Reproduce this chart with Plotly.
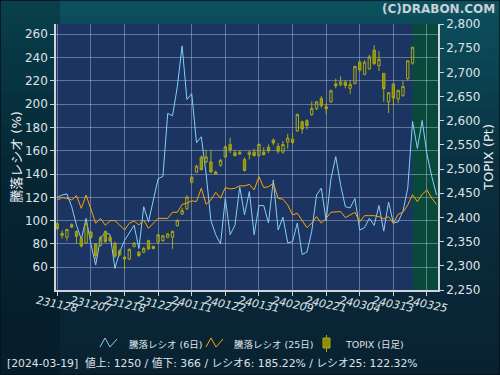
import plotly.graph_objects as go

# ---------------- data ----------------
tick_labels = ["231128", "231207", "231218", "231227", "240111", "240122",
               "240131", "240209", "240221", "240304", "240313", "240325"]

topix_open = [2387, 2363, 2359, 2385, 2371, 2357, 2347, 2370, 2345, 2342,
              2371, 2359, 2347, 2323, 2318, 2314, 2340, 2328, 2328, 2352,
              2340, 2349, 2352, 2359, 2359, 2383, 2407, 2418, 2473, 2494,
              2525, 2515, 2515, 2494, 2508, 2525, 2551, 2534, 2531, 2520,
              2530, 2535, 2528, 2535, 2545, 2560, 2547, 2535, 2556, 2562,
              2579, 2598, 2600, 2613, 2625, 2646, 2629, 2639, 2676, 2674,
              2680, 2667, 2677, 2721, 2696, 2707, 2746, 2714, 2698, 2639,
              2676, 2645, 2652, 2687, 2719]
topix_high = [2390, 2373, 2377, 2388, 2373, 2360, 2390, 2372, 2347, 2361,
              2373, 2362, 2350, 2334, 2320, 2336, 2349, 2331, 2339, 2354,
              2342, 2366, 2364, 2368, 2373, 2396, 2420, 2446, 2486, 2509,
              2528, 2540, 2540, 2497, 2521, 2549, 2565, 2540, 2538, 2524,
              2538, 2542, 2553, 2545, 2551, 2563, 2554, 2558, 2573, 2575,
              2615, 2600, 2603, 2640, 2641, 2651, 2636, 2664, 2687, 2692,
              2684, 2684, 2714, 2725, 2725, 2736, 2756, 2744, 2698, 2658,
              2676, 2663, 2682, 2724, 2752]
topix_low = [2374, 2356, 2352, 2378, 2345, 2338, 2345, 2356, 2314, 2340,
             2348, 2349, 2316, 2320, 2293, 2312, 2338, 2319, 2326, 2333,
             2334, 2347, 2350, 2357, 2335, 2381, 2405, 2416, 2470, 2492,
             2497, 2512, 2492, 2488, 2505, 2523, 2533, 2526, 2529, 2495,
             2520, 2526, 2526, 2528, 2533, 2549, 2532, 2532, 2542, 2552,
             2577, 2573, 2582, 2610, 2622, 2627, 2613, 2637, 2667, 2672,
             2667, 2655, 2675, 2701, 2694, 2705, 2715, 2703, 2639, 2616,
             2631, 2636, 2649, 2683, 2716]
topix_close = [2377, 2367, 2375, 2380, 2361, 2341, 2387, 2359, 2321, 2359,
               2350, 2352, 2320, 2331, 2314, 2334, 2347, 2321, 2336, 2335,
               2336, 2364, 2362, 2366, 2371, 2394, 2414, 2442, 2483, 2506,
               2499, 2525, 2494, 2490, 2518, 2546, 2540, 2528, 2535, 2497,
               2535, 2528, 2551, 2530, 2538, 2554, 2537, 2551, 2564, 2555,
               2613, 2583, 2590, 2625, 2639, 2631, 2625, 2662, 2672, 2680,
               2673, 2675, 2712, 2705, 2721, 2732, 2718, 2727, 2666, 2658,
               2647, 2663, 2671, 2724, 2752]

ratio6 = [120, 122, 123, 112, 96, 84, 102, 80, 62, 85,
          90, 88, 59, 73, 83, 89, 96, 76, 112, 99,
          118, 136, 138, 192, 190, 215, 250, 204, 209, 167,
          172, 140, 100, 88, 80, 119, 88, 96, 129, 105,
          125, 88, 113, 113, 98, 135, 92, 103, 81, 82,
          98, 71, 73, 91, 122, 128, 100, 136, 155, 131,
          112, 111, 119, 92, 94, 102, 96, 113, 91, 116,
          98, 99, 108, 128, 185.22, 162, 186, 157, 138, 122]
ratio25 = [117.8, 119.8, 119.2, 117.8, 121.5, 110.6, 122, 110.6, 97.8, 102,
           96, 100, 100, 96.3, 92, 97.8, 99.8, 96.3, 100.6, 93.5,
           97.8, 102, 102, 102, 107.2, 107.2, 114, 115, 117, 116.4,
           127.8, 114, 117.8, 124.4, 119.2, 128.4, 127.2, 127.8, 130, 129.8,
           131.2, 126.4, 137.8, 128.4, 129.2, 132, 119.2, 118.4, 113.5, 105,
           106.3, 99.8, 94, 97.8, 103.5, 97.8, 102, 107.2, 107.2, 107.8,
           102.6, 104.9, 107.2, 99.2, 104.3, 104.3, 104.3, 103.5, 101.5, 103.5,
           97.8, 105.5, 107.2, 113.5, 122.32, 116.4, 122.6, 126.4, 119.2, 114]

legend_names = ["騰落レシオ (6日)", "騰落レシオ (25日)", "TOPIX (日足)"]
status_text = "[2024-03-19]  値上: 1250 / 値下: 366 / レシオ6: 185.22% / レシオ25: 122.32%"

# ---------------- figure ----------------
W, H = 500, 375
ML, MR, MT, MB = 56, 62, 24, 85
PW, PH = W - ML - MR, H - MT - MB

def px2paper_x(px):
    return (px - ML) / PW

def px2paper_y(py):
    return (H - MB - py) / PH

FONT = "DejaVu Sans, Noto Sans CJK JP, sans-serif"
TXT = "#dfe3e8"
BLUE = "#87cefa"
ORANGE = "#ffa500"
OLIVE_LINE = "#a9a914"
OLIVE_FILL = "#8e8e0c"

idx_candle = list(range(len(topix_close)))
idx_ratio = list(range(len(ratio6)))

fig = go.Figure()
fig.add_trace(go.Scatter(x=idx_ratio, y=ratio6, mode="lines", name=legend_names[0],
                         line=dict(color=BLUE, width=1), yaxis="y", showlegend=False))
fig.add_trace(go.Scatter(x=idx_ratio, y=ratio25, mode="lines", name=legend_names[1],
                         line=dict(color=ORANGE, width=1), yaxis="y", showlegend=False))
fig.add_trace(go.Candlestick(x=idx_candle, open=topix_open, high=topix_high,
                             low=topix_low, close=topix_close, name=legend_names[2],
                             yaxis="y2", showlegend=False,
                             increasing=dict(line=dict(color=OLIVE_LINE, width=1),
                                             fillcolor="rgba(0,0,0,0)"),
                             decreasing=dict(line=dict(color=OLIVE_LINE, width=1),
                                             fillcolor=OLIVE_FILL)))

shapes = []
# background gradient (paper)
x0p, x1p = px2paper_x(0), px2paper_x(W)
top_c = (12, 80, 94)
mid_c = (10, 48, 64)
bot_c = (9, 34, 50)
N = 24
for k in range(N):
    t = k / (N - 1)
    if t < 0.45:
        u = t / 0.45
        c = tuple(int(top_c[j] + (mid_c[j] - top_c[j]) * u) for j in range(3))
    else:
        u = (t - 0.45) / 0.55
        c = tuple(int(mid_c[j] + (bot_c[j] - mid_c[j]) * u) for j in range(3))
    ya = px2paper_y(k * H / N)
    yb = px2paper_y((k + 1) * H / N + 1)
    shapes.append(dict(type="rect", xref="paper", yref="paper", x0=x0p, x1=x1p,
                       y0=yb, y1=ya, line=dict(width=0),
                       fillcolor="rgb(%d,%d,%d)" % c, layer="below"))
# darker left side
shapes.append(dict(type="rect", xref="paper", yref="paper", x0=x0p, x1=px2paper_x(60),
                   y0=px2paper_y(H), y1=px2paper_y(0), line=dict(width=0),
                   fillcolor="rgba(0,10,20,0.25)", layer="below"))
# plot background
shapes.append(dict(type="rect", xref="paper", yref="paper", x0=0, x1=1, y0=0, y1=1,
                   line=dict(width=0), fillcolor="#1b3461", layer="below"))
# green latest-period region
shapes.append(dict(type="rect", xref="x", yref="paper", x0=74, x1=79.3, y0=0, y1=1,
                   line=dict(width=0), fillcolor="#08493b", layer="below"))
# border
shapes.append(dict(type="rect", xref="paper", yref="paper", x0=x0p, x1=x1p,
                   y0=px2paper_y(H), y1=px2paper_y(0), line=dict(width=1.5, color="#05121a"),
                   fillcolor="rgba(0,0,0,0)", layer="above"))

# manual legend icons (paper coordinates)
def zigzag(pts, color):
    path = "M " + " L ".join("%f,%f" % (px2paper_x(a), px2paper_y(b)) for a, b in pts)
    return dict(type="path", xref="paper", yref="paper", path=path,
                line=dict(color=color, width=1), layer="above")

shapes.append(zigzag([(100, 347), (105, 338), (110, 347), (117, 339)], BLUE))
shapes.append(zigzag([(206, 347), (211, 338), (216, 347), (223, 339)], ORANGE))
# candle icon
shapes.append(dict(type="line", xref="paper", yref="paper",
                   x0=px2paper_x(326.5), x1=px2paper_x(326.5),
                   y0=px2paper_y(335), y1=px2paper_y(352),
                   line=dict(color=OLIVE_LINE, width=1), layer="above"))
shapes.append(dict(type="rect", xref="paper", yref="paper",
                   x0=px2paper_x(323), x1=px2paper_x(330),
                   y0=px2paper_y(348), y1=px2paper_y(338),
                   line=dict(color=OLIVE_LINE, width=1), fillcolor=OLIVE_FILL, layer="above"))

annotations = []
for k, lab in enumerate(tick_labels):
    annotations.append(dict(x=7 * k, xref="x", y=0, yref="paper", text=lab,
                            showarrow=False, textangle=12, xanchor="center",
                            yanchor="top", yshift=-1,
                            font=dict(family=FONT, size=11, color=TXT, style="italic")))
for xpx, name in zip([127, 232, 343], legend_names):
    annotations.append(dict(x=px2paper_x(xpx), y=px2paper_y(344), xref="paper", yref="paper",
                            text=name, showarrow=False, xanchor="left", yanchor="middle",
                            font=dict(family=FONT, size=9.5, color=TXT)))
annotations.append(dict(x=px2paper_x(497), y=px2paper_y(9), xref="paper", yref="paper",
                        text="<b>(C)DRABON.COM</b>", showarrow=False, xanchor="right",
                        yanchor="middle", font=dict(family=FONT, size=12, color="#c9d0d6")))
annotations.append(dict(x=px2paper_x(5), y=px2paper_y(363), xref="paper", yref="paper",
                        text=status_text, showarrow=False, xanchor="left",
                        yanchor="middle", font=dict(family=FONT, size=10.8, color=TXT)))

fig.update_layout(
    width=W, height=H,
    margin=dict(l=ML, r=MR, t=MT, b=MB, pad=0, autoexpand=False),
    paper_bgcolor="#0a2b3c",
    plot_bgcolor="#1b3461",
    font=dict(family=FONT, color=TXT, size=11),
    showlegend=False,
    xaxis=dict(range=[-0.27, 79.3], tickvals=[7 * k for k in range(len(tick_labels))],
               showticklabels=False, ticks="outside", ticklen=4, tickcolor="#d0d4da",
               showgrid=True, gridcolor="rgba(190,200,220,0.45)", gridwidth=1,
               showline=True, linecolor="#d0d4da", linewidth=1.5, zeroline=False,
               automargin=False, rangeslider=dict(visible=False)),
    yaxis=dict(range=[40.5, 268.8], tickvals=[60, 80, 100, 120, 140, 160, 180, 200, 220, 240, 260],
               ticks="outside", ticklen=4, tickcolor="#d0d4da", automargin=False,
               showgrid=True, gridcolor="rgba(190,200,220,0.45)", gridwidth=1,
               showline=True, linecolor="#d0d4da", linewidth=1.5, zeroline=False,
               tickfont=dict(family=FONT, size=12, color=TXT),
               title=dict(text="騰落レシオ (%)", standoff=0,
                          font=dict(family=FONT, size=13, color="#eef0f3"))),
    yaxis2=dict(range=[2250, 2800], overlaying="y", side="right", dtick=50,
                tickformat=",d", ticks="outside", ticklen=4, tickcolor="#d0d4da",
                showgrid=False, showline=True, linecolor="#d0d4da", linewidth=1.5,
                zeroline=False, automargin=False, tickfont=dict(family=FONT, size=12, color=TXT),
                title=dict(text="TOPIX (Pt)", standoff=0,
                           font=dict(family=FONT, size=13, color="#eef0f3"))),
    shapes=shapes,
    annotations=annotations,
)

fig.write_html("out.html", config={"displayModeBar": False},
               post_script="document.body.style.margin='0px';document.body.style.overflow='hidden';")
